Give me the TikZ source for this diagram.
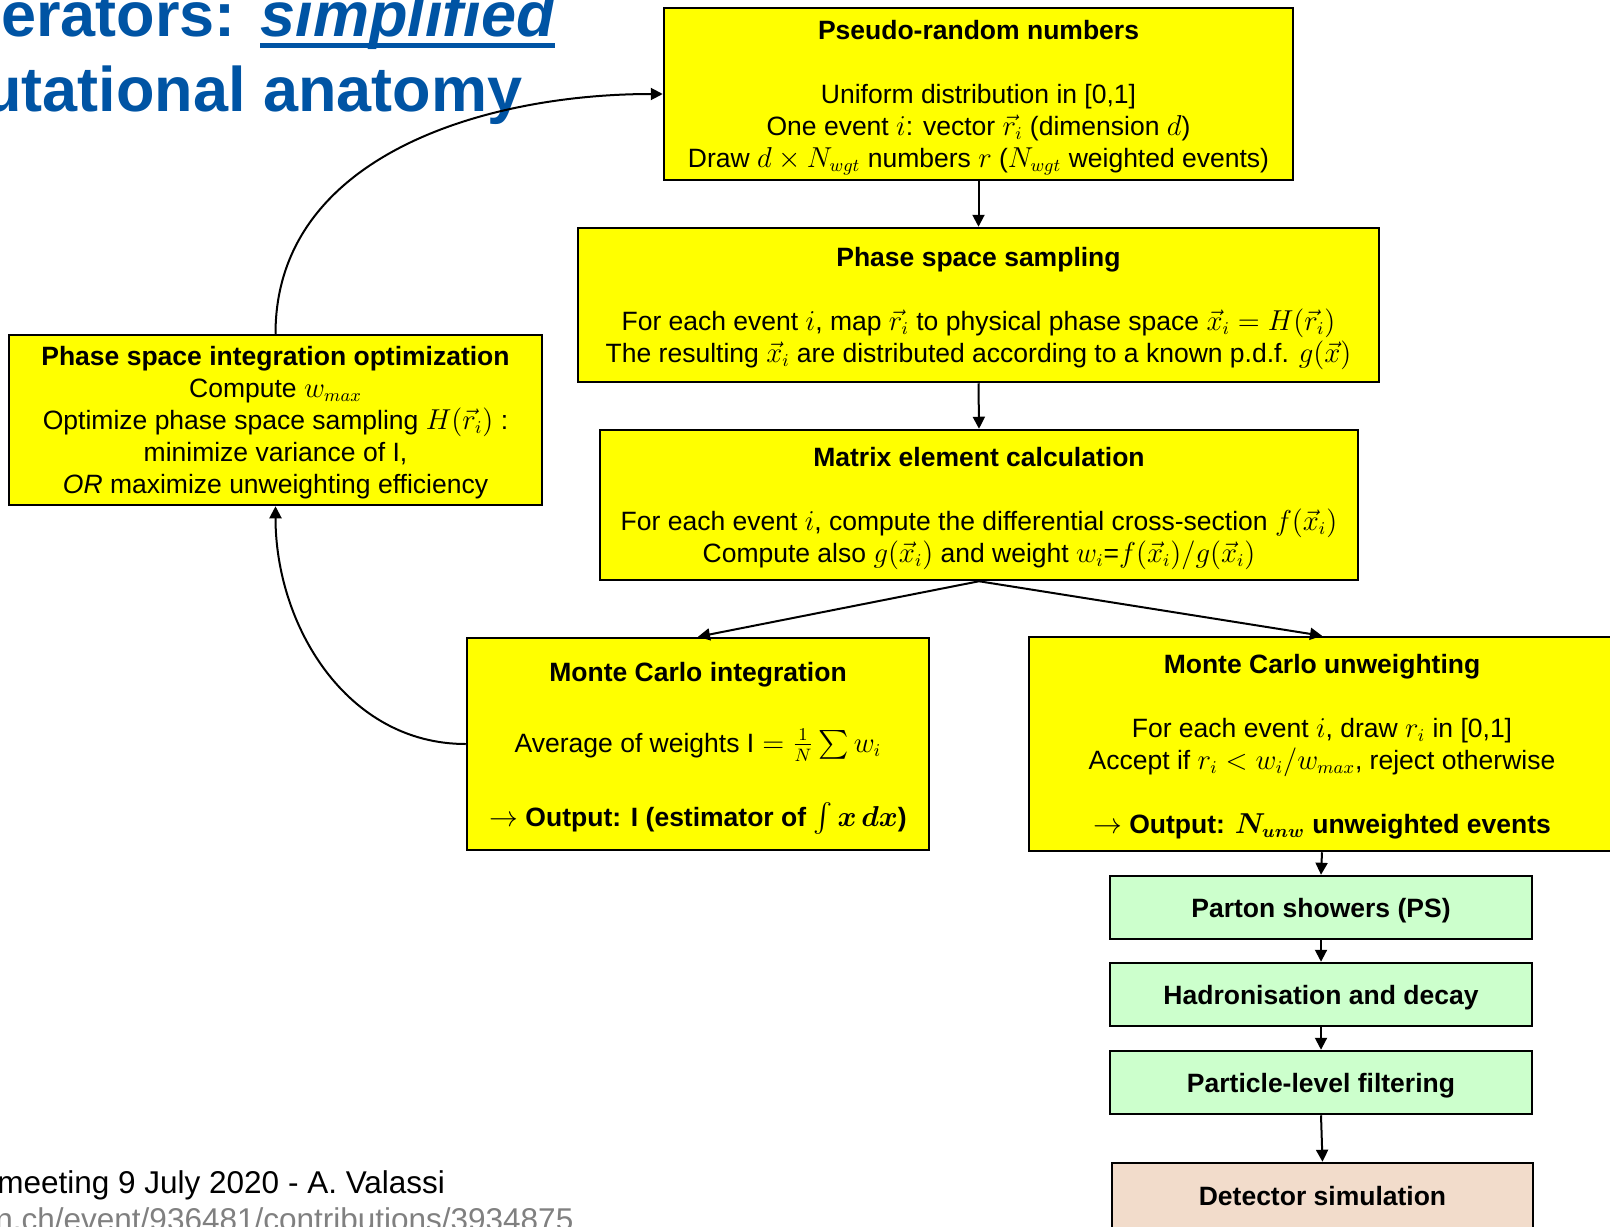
\documentclass[tikz,border=0pt]{standalone}
\usepackage{fontspec}
\setmainfont{Liberation Sans}
\usepackage{amsmath}
\usetikzlibrary{arrows.meta}
\definecolor{slideblue}{RGB}{0,84,164}
\definecolor{boxyellow}{RGB}{255,255,0}
\definecolor{boxgreen}{RGB}{204,255,204}
\definecolor{boxtan}{RGB}{242,220,203}
\begin{document}
\begin{tikzpicture}[x=0.5pt,y=-0.5pt,
  ybox/.style={draw,line width=1.25pt,fill=boxyellow,align=center,inner sep=0pt,text depth=0pt,
    font=\fontsize{13.25}{16}\selectfont},
  gbox/.style={draw,line width=1.25pt,fill=boxgreen,minimum width=211pt,minimum height=31.5pt,
    inner sep=0pt,text depth=0pt,font=\fontsize{13.25}{16}\selectfont\bfseries},
  arr/.style={-{Triangle[length=6pt,width=6pt]},line width=1pt},
  slidetitle/.style={anchor=base west,inner sep=0pt,text=slideblue,
    font=\fontsize{31.5}{36}\selectfont\bfseries},
  footer/.style={anchor=base west,inner sep=0pt,font=\fontsize{15.75}{18}\selectfont}]
\useasboundingbox (0,0) rectangle (1610,1226);
\node[slidetitle] (ttlone) at (1,36) {erators:};
\node[slidetitle,font=\fontsize{31.5}{36}\selectfont\bfseries\itshape] (ttlsimp)
  at ([xshift=12pt]ttlone.base east) {simplified};
\draw[slideblue,line width=2.5pt] ([yshift=-4.75pt]ttlsimp.base west) -- ([yshift=-4.75pt]ttlsimp.base east);
\node[slidetitle] (ttltwo) at (-17,111) {utational anatomy};
\node[ybox,minimum width=314.5pt,minimum height=86pt] (prng) at (978.5,94)
  {\textbf{Pseudo-random numbers}\\[16pt]
   Uniform distribution in [0,1]\\
   One event $i$: vector $\vec{r}_i$ (dimension $d$)\\
   Draw $d\times N_{wgt}$ numbers $r$ ($N_{wgt}$ weighted events)};
\node[ybox,minimum width=400.5pt,minimum height=77pt] (pss) at (978.5,305)
  {\textbf{Phase space sampling}\\[16pt]
   For each event $i$, map $\vec{r}_i$ to physical phase space $\vec{x}_i=H(\vec{r}_i)$\\
   The resulting $\vec{x}_i$ are distributed according to a known p.d.f. $g(\vec{x})$};
\node[ybox,minimum width=266.5pt,minimum height=85pt] (opt) at (275.5,420)
  {\textbf{Phase space integration optimization}\\
   Compute $w_{max}$\\
   Optimize phase space sampling $H(\vec{r}_i)$ :\\
   minimize variance of I,\\
   \textit{OR} maximize unweighting efficiency};
\node[ybox,minimum width=379pt,minimum height=75pt] (mel) at (979,505)
  {\textbf{Matrix element calculation}\\[16pt]
   For each event $i$, compute the differential cross-section $f(\vec{x}_i)$\\
   Compute also $g(\vec{x}_i)$ and weight $w_i$=$f(\vec{x}_i)/g(\vec{x}_i)$};
\node[ybox,minimum width=231pt,minimum height=106pt] (mcint) at (698,744)
  {\textbf{Monte Carlo integration}\\[19.5pt]
   Average of weights $\mathrm{I}=\frac{1}{N}\sum w_i$\\[19.5pt]
   $\rightarrow$ \textbf{Output: $\mathbf{I}$ (estimator of $\int\boldsymbol{x}\,\boldsymbol{dx}$)}};
\node[ybox,minimum width=293pt,minimum height=107pt] (mcunw) at (1322,744)
  {\textbf{Monte Carlo unweighting}\\[16pt]
   For each event $i$, draw $r_i$ in [0,1]\\
   Accept if $r_i<w_i/w_{max}$, reject otherwise\\[16pt]
   $\rightarrow$ \textbf{Output: $\boldsymbol{N_{unw}}$ unweighted events}};
\node[gbox] (ps) at (1321,907.5) {Parton showers (PS)};
\node[gbox] (had) at (1321,994.5) {Hadronisation and decay};
\node[gbox] (filt) at (1321,1082.5) {Particle-level filtering};
\node[gbox,fill=boxtan,minimum width=210.5pt,minimum height=33pt] (det) at (1322.5,1196) {Detector simulation};
\draw[arr] (prng.south) -- (pss.north);
\draw[arr] (pss.south) -- (mel.north);
\draw[arr] (mel.south) -- (mcint.north);
\draw[arr] (mel.south) -- (mcunw.north);
\draw[arr] (mcint.west) to[out=180,in=-90] (opt.south);
\draw[arr] (opt.north) to[out=90,in=180] (prng.west);
\draw[arr] (mcunw.south) -- (ps.north);
\draw[arr] (ps.south) -- (had.north);
\draw[arr] (had.south) -- (filt.north);
\draw[arr] (filt.south) -- (det.north);
\node[footer] (meet) at (-3,1193) {meeting 9 July 2020 - A. Valassi};
\node[footer,text=gray] (url) at (-5,1230) {n.ch/event/936481/contributions/3934875};
\end{tikzpicture}
\end{document}
